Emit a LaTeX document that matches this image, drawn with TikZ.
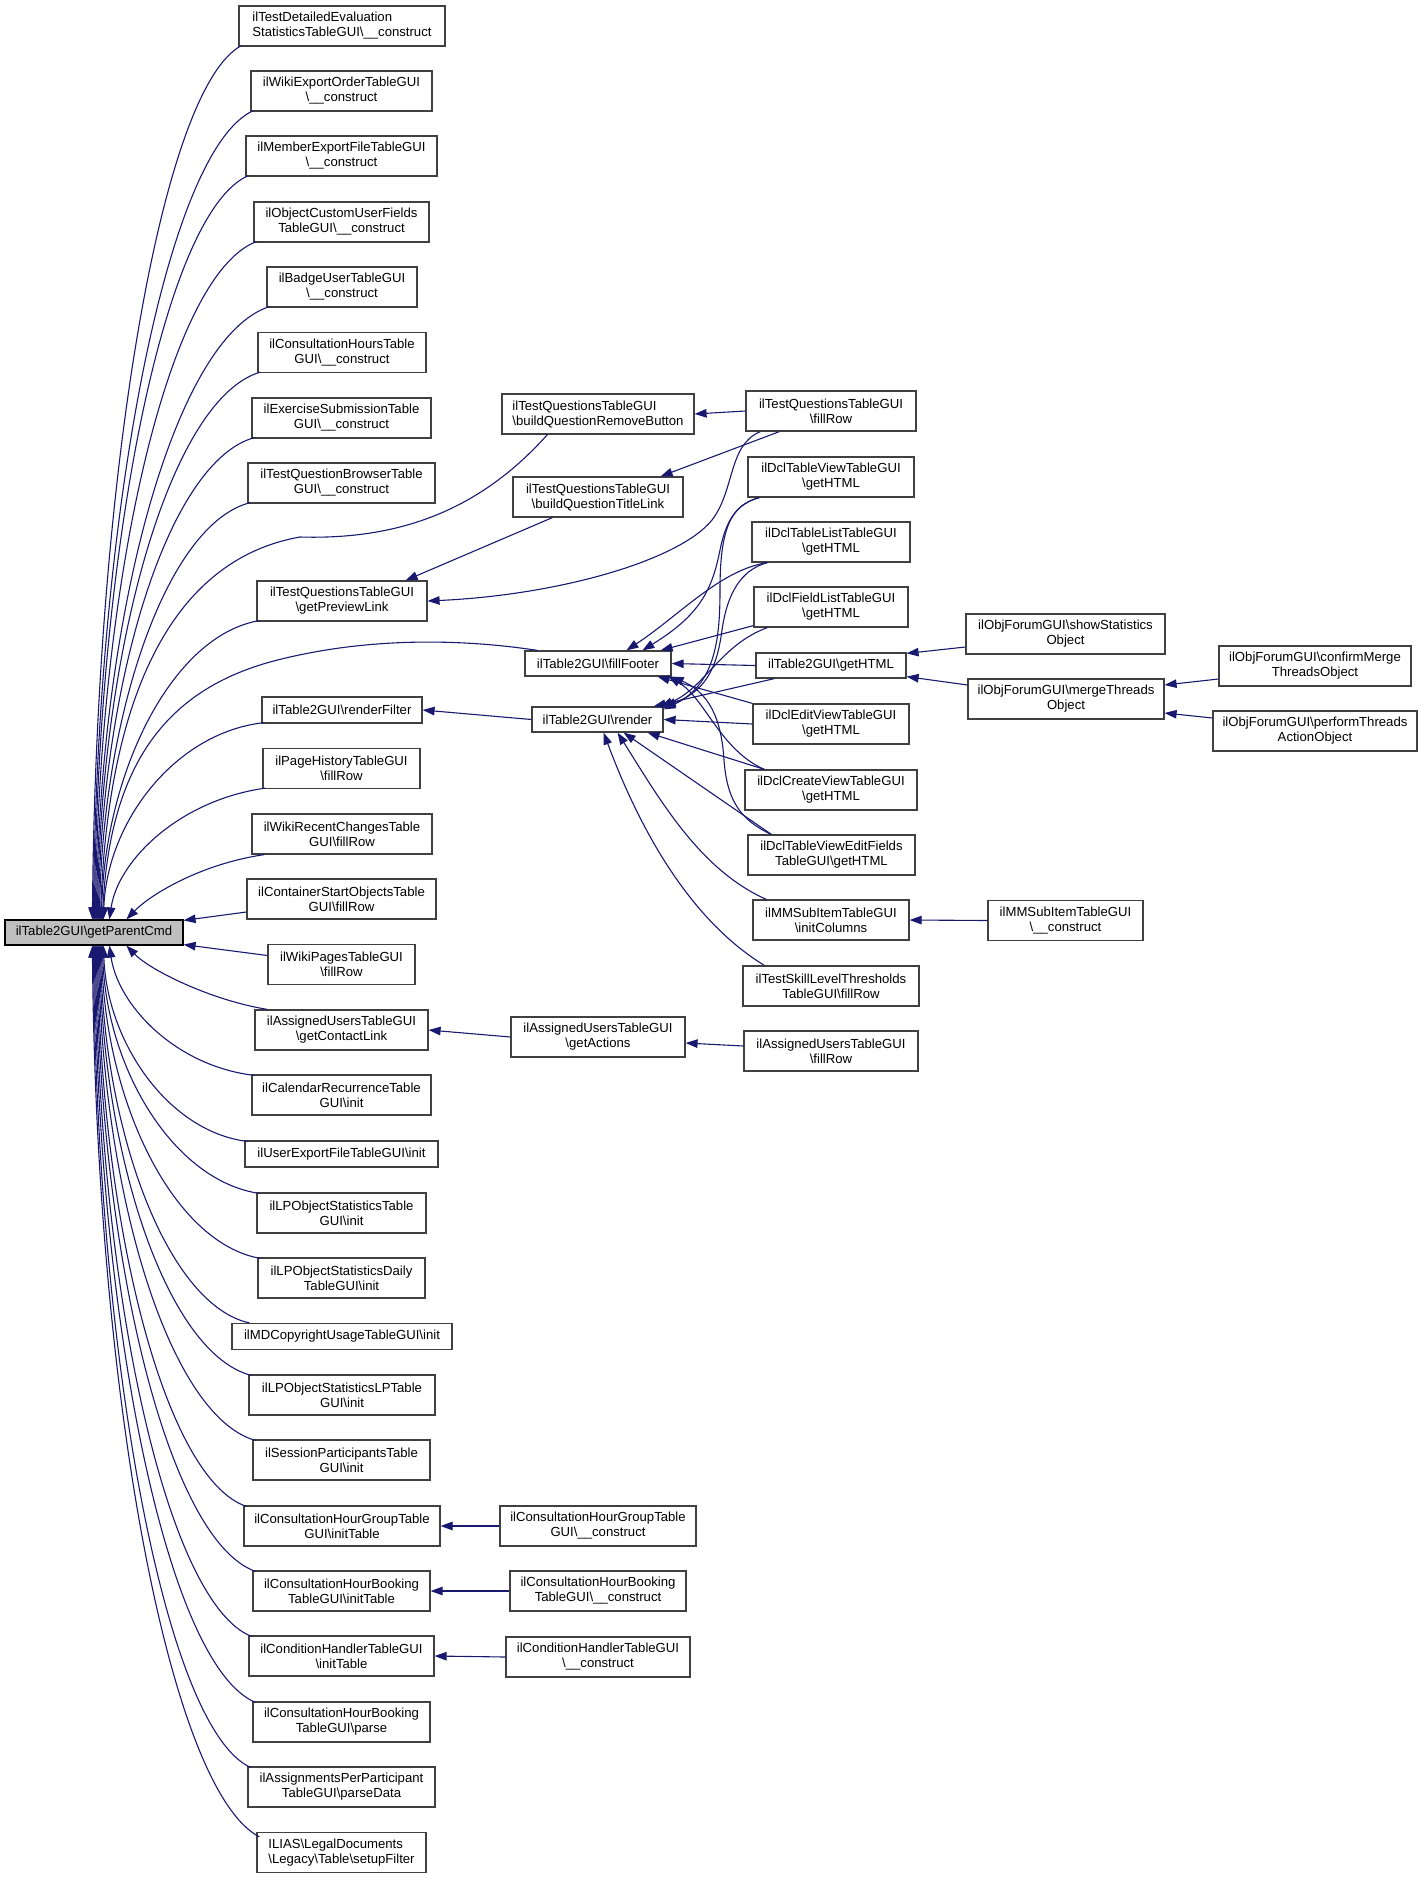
\documentclass[tikz,border=0pt]{standalone}
\usepackage{fontspec}
\setmainfont{Liberation Sans}
\usetikzlibrary{arrows.meta,calc}
\definecolor{edgeblue}{HTML}{191970}
\definecolor{boxline}{HTML}{404040}
\definecolor{rootfill}{HTML}{BFBFBF}
\newcommand{\bs}{\textbackslash}
\begin{document}
\begin{tikzpicture}[x=1pt,y=-1pt,
  fn/.style={draw=boxline, line width=1.2pt, fill=white, inner sep=0pt, align=center,
    font=\fontsize{13.15}{15}\selectfont},
  fl/.style={fn, align=left},
  rootn/.style={fn, fill=rootfill, draw=black},
  arr/.style={draw=edgeblue, line width=1.1pt, {Triangle[length=12pt,width=8.5pt]}-}]
\useasboundingbox (0,0) rectangle (1423,1879);

% ---------------- left column ----------------
\node[fl, minimum width=206pt, minimum height=40pt] (L1) at (342,26) {ilTestDetailedEvaluation\\StatisticsTableGUI\bs\_\_construct};
\node[fn, minimum width=181pt, minimum height=40pt] (L2) at (341.5,91) {ilWikiExportOrderTableGUI\\\bs\_\_construct};
\node[fn, minimum width=191pt, minimum height=40pt] (L3) at (341.5,156) {ilMemberExportFileTableGUI\\\bs\_\_construct};
\node[fn, minimum width=175pt, minimum height=40pt] (L4) at (341.5,222) {ilObjectCustomUserFields\\TableGUI\bs\_\_construct};
\node[fn, minimum width=150pt, minimum height=40pt] (L5) at (342,287) {ilBadgeUserTableGUI\\\bs\_\_construct};
\node[fn, minimum width=168pt, minimum height=40pt] (L6) at (342,352.5) {ilConsultationHoursTable\\GUI\bs\_\_construct};
\node[fn, minimum width=179pt, minimum height=40pt] (L7) at (341.5,418) {ilExerciseSubmissionTable\\GUI\bs\_\_construct};
\node[fn, minimum width=187pt, minimum height=40pt] (L8) at (341.5,483) {ilTestQuestionBrowserTable\\GUI\bs\_\_construct};
\node[fn, minimum width=170pt, minimum height=40pt] (L9) at (342,601) {ilTestQuestionsTableGUI\\\bs getPreviewLink};
\node[fn, minimum width=160pt, minimum height=26pt] (L10) at (342,710) {ilTable2GUI\bs renderFilter};
\node[fn, minimum width=157pt, minimum height=40pt] (L11) at (341.5,768.5) {ilPageHistoryTableGUI\\\bs fillRow};
\node[fn, minimum width=180pt, minimum height=40pt] (L12) at (342,834) {ilWikiRecentChangesTable\\GUI\bs fillRow};
\node[fn, minimum width=189pt, minimum height=40pt] (L13) at (341.5,899) {ilContainerStartObjectsTable\\GUI\bs fillRow};
\node[rootn, minimum width=178pt, minimum height=25pt] (root) at (94,932.5) {ilTable2GUI\bs getParentCmd};
\node[fn, minimum width=147pt, minimum height=40pt] (L14) at (341.5,964.5) {ilWikiPagesTableGUI\\\bs fillRow};
\node[fn, minimum width=173pt, minimum height=40pt] (L15) at (341.5,1030) {ilAssignedUsersTableGUI\\\bs getContactLink};
\node[fn, minimum width=179pt, minimum height=40pt] (L16) at (341.5,1095) {ilCalendarRecurrenceTable\\GUI\bs init};
\node[fn, minimum width=193pt, minimum height=26pt] (L17) at (341.5,1154) {ilUserExportFileTableGUI\bs init};
\node[fn, minimum width=169pt, minimum height=40pt] (L18) at (341.5,1213) {ilLPObjectStatisticsTable\\GUI\bs init};
\node[fn, minimum width=167pt, minimum height=40pt] (L19) at (341.5,1278) {ilLPObjectStatisticsDaily\\TableGUI\bs init};
\node[fn, minimum width=220pt, minimum height=26pt] (L20) at (342,1336.5) {ilMDCopyrightUsageTableGUI\bs init};
\node[fn, minimum width=186pt, minimum height=40pt] (L21) at (342,1395) {ilLPObjectStatisticsLPTable\\GUI\bs init};
\node[fn, minimum width=177pt, minimum height=40pt] (L22) at (341.5,1460) {ilSessionParticipantsTable\\GUI\bs init};
\node[fn, minimum width=196pt, minimum height=40pt] (L23) at (342,1526) {ilConsultationHourGroupTable\\GUI\bs initTable};
\node[fn, minimum width=177pt, minimum height=40pt] (L24) at (341.5,1591) {ilConsultationHourBooking\\TableGUI\bs initTable};
\node[fn, minimum width=185pt, minimum height=40pt] (L25) at (341.5,1656) {ilConditionHandlerTableGUI\\\bs initTable};
\node[fn, minimum width=177pt, minimum height=40pt] (L26) at (341.5,1722) {ilConsultationHourBooking\\TableGUI\bs parse};
\node[fn, minimum width=187pt, minimum height=40pt] (L27) at (341.5,1787) {ilAssignmentsPerParticipant\\TableGUI\bs parseData};
\node[fl, minimum width=169pt, minimum height=40pt] (L28) at (341.5,1852.5) {ILIAS\bs LegalDocuments\\\bs Legacy\bs Table\bs setupFilter};

% ---------------- middle column ----------------
\node[fl, minimum width=192pt, minimum height=40pt] (M1) at (598,414) {ilTestQuestionsTableGUI\\\bs buildQuestionRemoveButton};
\node[fn, minimum width=170pt, minimum height=40pt] (M2) at (598,497) {ilTestQuestionsTableGUI\\\bs buildQuestionTitleLink};
\node[fn, minimum width=146pt, minimum height=25pt] (M3) at (598,663.5) {ilTable2GUI\bs fillFooter};
\node[fn, minimum width=131pt, minimum height=25pt] (M4) at (597.5,719.5) {ilTable2GUI\bs render};
\node[fn, minimum width=174pt, minimum height=40pt] (M5) at (598,1037) {ilAssignedUsersTableGUI\\\bs getActions};
\node[fn, minimum width=196pt, minimum height=40pt] (M6) at (598,1526) {ilConsultationHourGroupTable\\GUI\bs\_\_construct};
\node[fn, minimum width=176pt, minimum height=40pt] (M7) at (598,1591) {ilConsultationHourBooking\\TableGUI\bs\_\_construct};
\node[fn, minimum width=184pt, minimum height=40pt] (M8) at (598,1657) {ilConditionHandlerTableGUI\\\bs\_\_construct};

% ---------------- third column ----------------
\node[fn, minimum width=170pt, minimum height=40pt] (R1) at (831,411) {ilTestQuestionsTableGUI\\\bs fillRow};
\node[fn, minimum width=166pt, minimum height=40pt] (R2) at (831,477) {ilDclTableViewTableGUI\\\bs getHTML};
\node[fn, minimum width=158pt, minimum height=40pt] (R3) at (831,542) {ilDclTableListTableGUI\\\bs getHTML};
\node[fn, minimum width=154pt, minimum height=40pt] (R4) at (831,607) {ilDclFieldListTableGUI\\\bs getHTML};
\node[fn, minimum width=150pt, minimum height=25pt] (R5) at (831,665.5) {ilTable2GUI\bs getHTML};
\node[fn, minimum width=156pt, minimum height=40pt] (R6) at (831,724) {ilDclEditViewTableGUI\\\bs getHTML};
\node[fn, minimum width=172pt, minimum height=40pt] (R7) at (831,790) {ilDclCreateViewTableGUI\\\bs getHTML};
\node[fn, minimum width=167pt, minimum height=40pt] (R8) at (831.5,855) {ilDclTableViewEditFields\\TableGUI\bs getHTML};
\node[fn, minimum width=156pt, minimum height=40pt] (R9) at (831,920) {ilMMSubItemTableGUI\\\bs initColumns};
\node[fn, minimum width=176pt, minimum height=40pt] (R10) at (831,986) {ilTestSkillLevelThresholds\\TableGUI\bs fillRow};
\node[fn, minimum width=174pt, minimum height=40pt] (R11) at (831,1051) {ilAssignedUsersTableGUI\\\bs fillRow};

% ---------------- fourth / fifth columns ----------------
\node[fn, minimum width=199pt, minimum height=40pt] (F1) at (1065.5,634) {ilObjForumGUI\bs showStatistics\\Object};
\node[fn, minimum width=196pt, minimum height=40pt] (F2) at (1066,699) {ilObjForumGUI\bs mergeThreads\\Object};
\node[fn, minimum width=155pt, minimum height=40pt] (F3) at (1065.5,920.5) {ilMMSubItemTableGUI\\\bs\_\_construct};
\node[fn, minimum width=192pt, minimum height=40pt] (G1) at (1315,666) {ilObjForumGUI\bs confirmMerge\\ThreadsObject};
\node[fn, minimum width=204pt, minimum height=40pt] (G2) at (1315,731) {ilObjForumGUI\bs performThreads\\ActionObject};

% ---------------- edges into getParentCmd (upper) ----------------
\draw[arr] ([xshift=88pt]root.north west) .. controls (96,482) and (160,89) .. ([xshift=3pt,yshift=1pt]L1.south west);
\draw[arr] ([xshift=89pt]root.north west) .. controls (97,515) and (166,150) .. ([xshift=3pt,yshift=1pt]L2.south west);
\draw[arr] ([xshift=90pt]root.north west) .. controls (98,547) and (164,212) .. ([xshift=3pt,yshift=1pt]L3.south west);
\draw[arr] ([xshift=91pt]root.north west) .. controls (99,580) and (168,275) .. ([xshift=3pt,yshift=1pt]L4.south west);
\draw[arr] ([xshift=92pt]root.north west) .. controls (100,613) and (175,337) .. ([xshift=3pt,yshift=1pt]L5.south west);
\draw[arr] ([xshift=93pt]root.north west) .. controls (101,645) and (171,398) .. ([xshift=3pt,yshift=1pt]L6.south west);
\draw[arr] ([xshift=94pt]root.north west) .. controls (102,678) and (169,461) .. ([xshift=3pt,yshift=1pt]L7.south west);
\draw[arr] ([xshift=95pt]root.north west) .. controls (103,711) and (168,523) .. ([xshift=3pt,yshift=1pt]L8.south west);
\draw[arr] ([xshift=96pt]root.north west) .. controls (108,700) and (170,560) .. (300,537) .. controls (400,540) and (480,510) .. ([xshift=46pt]M1.south west);
\draw[arr] ([xshift=97pt]root.north west) .. controls (105,770) and (173,635) .. ([xshift=3pt,yshift=1pt]L9.south west);
\draw[arr] ([xshift=98pt]root.north west) .. controls (110,760) and (170,690) .. (270,662) .. controls (370,635) and (470,640) .. ([xshift=13pt]M3.north west);
\draw[arr] ([xshift=99pt]root.north west) .. controls (107,821) and (176,732) .. ([xshift=3pt,yshift=1pt]L10.south west);
\draw[arr] ([xshift=105pt]root.north west) .. controls (118,860) and (180,800) .. ([xshift=3pt,yshift=1pt]L11.south west);
\draw[arr] ([xshift=122pt]root.north west) .. controls (150,895) and (200,864) .. ([xshift=13pt]L12.south west);
\draw[arr] ([yshift=-1pt]root.north east) -- ([yshift=-13pt]L13.west);
\draw[arr] ([yshift=1pt]root.south east) -- ([yshift=9pt]L14.west);

% ---------------- edges into getParentCmd (lower) ----------------
\draw[arr] ([xshift=122pt]root.south west) .. controls (150,970) and (210,1000) .. ([xshift=13pt]L15.north west);
\draw[arr] ([xshift=105pt]root.south west) .. controls (118,1005) and (175,1066) .. ([xshift=3pt,yshift=-1pt]L16.north west);
\draw[arr] ([xshift=99pt]root.south west) .. controls (107,1043) and (169,1132) .. ([xshift=3pt,yshift=-1pt]L17.north west);
\draw[arr] ([xshift=98pt]root.south west) .. controls (106,1069) and (174,1181) .. ([xshift=3pt,yshift=-1pt]L18.north west);
\draw[arr] ([xshift=97pt]root.south west) .. controls (105,1102) and (173,1243) .. ([xshift=3pt,yshift=-1pt]L19.north west);
\draw[arr] ([xshift=96pt]root.south west) .. controls (104,1134) and (168,1305) .. ([xshift=18pt]L20.north west);
\draw[arr] ([xshift=95pt]root.south west) .. controls (103,1160) and (168,1354) .. ([xshift=3pt,yshift=-1pt]L21.north west);
\draw[arr] ([xshift=94pt]root.south west) .. controls (102,1193) and (169,1416) .. ([xshift=3pt,yshift=-1pt]L22.north west);
\draw[arr] ([xshift=93pt]root.south west) .. controls (101,1226) and (165,1479) .. ([xshift=3pt,yshift=-1pt]L23.north west);
\draw[arr] ([xshift=92pt]root.south west) .. controls (100,1258) and (168,1540) .. ([xshift=3pt,yshift=-1pt]L24.north west);
\draw[arr] ([xshift=91pt]root.south west) .. controls (99,1291) and (166,1602) .. ([xshift=3pt,yshift=-1pt]L25.north west);
\draw[arr] ([xshift=90pt]root.south west) .. controls (98,1324) and (167,1665) .. ([xshift=3pt,yshift=-1pt]L26.north west);
\draw[arr] ([xshift=89pt]root.south west) .. controls (97,1356) and (164,1727) .. ([xshift=3pt,yshift=-1pt]L27.north west);
\draw[arr] ([xshift=88pt]root.south west) .. controls (96,1389) and (168,1789) .. ([xshift=3pt,yshift=-5pt]L28.north west);

% ---------------- test questions ----------------
\draw[arr] (M1.east) -- (R1.west);
\draw[arr] ([xshift=-23pt]M2.north east) -- ([xshift=34pt]R1.south west);
\draw[arr] (L9.east) .. controls (560,595) and (680,560) .. (712,520) .. controls (735,490) and (728,445) .. ([xshift=15pt]R1.south west);
\draw[arr] ([xshift=-22pt]L9.north east) -- ([xshift=40pt]M2.south west);
\draw[arr] (L10.east) -- (M4.west);

% ---------------- fillFooter ----------------
\draw[arr] ([xshift=102pt]M3.north west) .. controls (680,615) and (720,570) .. ([xshift=16pt]R3.south west);
\draw[arr] ([xshift=118pt]M3.north west) .. controls (700,615) and (712,590) .. (720,550) .. controls (727,515) and (740,503) .. ([xshift=12pt]R2.south west);
\draw[arr] ([xshift=-11pt]M3.north east) -- ([yshift=2pt]R4.south west);
\draw[arr] (M3.east) -- (R5.west);
\draw[arr] ([xshift=-14pt]M3.south east) -- (R6.north west);
\draw[arr] ([xshift=-3pt]M3.south east) .. controls (705,698) and (720,750) .. ([xshift=20pt]R7.north west);
\draw[arr] (M3.south east) .. controls (715,695) and (722,730) .. (724,760) .. controls (727,800) and (740,820) .. ([xshift=24pt]R8.north west);

% ---------------- render ----------------
\draw[arr] ([xshift=-10pt]M4.north east) -- ([xshift=19pt]R5.south west);
\draw[arr] ([xshift=-3pt]M4.north east) .. controls (705,688) and (720,645) .. ([xshift=14pt]R4.south west);
\draw[arr] (M4.north east) .. controls (710,690) and (718,660) .. (722,630) .. controls (727,595) and (740,570) .. ([xshift=16pt]R3.south west);
\draw[arr] ([yshift=-3pt]M4.north east) .. controls (715,685) and (720,640) .. (720,590) .. controls (720,530) and (730,505) .. ([xshift=12pt]R2.south west);
\draw[arr] (M4.east) -- (R6.west);
\draw[arr] ([xshift=-16pt]M4.south east) -- ([xshift=20pt]R7.north west);
\draw[arr] ([xshift=-40pt]M4.south east) -- ([xshift=24pt]R8.north west);
\draw[arr] ([xshift=-46pt]M4.south east) .. controls (660,800) and (700,870) .. ([xshift=14pt]R9.north west);
\draw[arr] ([xshift=-60pt]M4.south east) .. controls (640,830) and (690,920) .. ([xshift=22pt]R10.north west);

% ---------------- right part ----------------
\draw[arr] ([yshift=-1pt]R5.north east) -- ([yshift=-13pt]F1.west);
\draw[arr] ([yshift=2pt]R5.south east) -- ([yshift=14pt]F2.west);
\draw[arr] ([yshift=14pt]F2.east) -- ([yshift=-13pt]G1.west);
\draw[arr] ([yshift=-14pt]F2.east) -- ([yshift=13pt]G2.west);
\draw[arr] (R9.east) -- (F3.west);

% ---------------- lower chains ----------------
\draw[arr] (L15.east) -- (M5.west);
\draw[arr] ([yshift=-6pt]M5.east) -- ([yshift=5pt]R11.west);
\draw[arr] (L23.east) -- (M6.west);
\draw[arr] (L24.east) -- (M7.west);
\draw[arr] (L25.east) -- (M8.west);
\end{tikzpicture}
\end{document}
